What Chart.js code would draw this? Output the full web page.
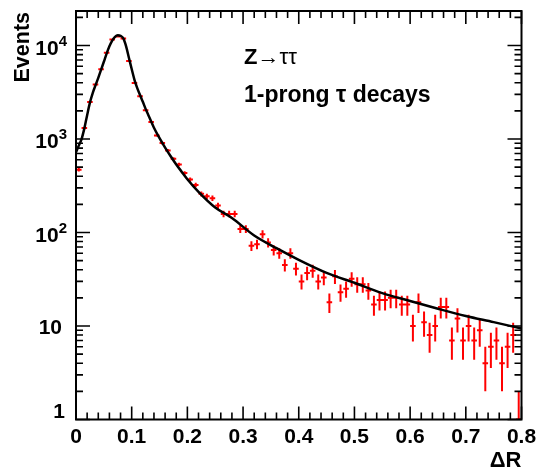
<!DOCTYPE html>
<html>
<head>
<meta charset="utf-8">
<script src="https://cdn.jsdelivr.net/npm/chart.js@4/dist/chart.umd.min.js"></script>
<style>
    html, body { margin: 0; padding: 0; background: #fff; }
</style>
</head>
<body>
<canvas id="myChart" width="541" height="474"></canvas>
<script>
// histogram: 80 bins of width 0.01 from 0 to 0.8
var binLow = 0;
var binWidth = 0.01;
var counts = [470, 1310, 2490, 3820, 5570, 8350, 11600, 12500, 11900, 6850,
    3980, 2860, 2025, 1520, 1091, 906, 754, 614, 533, 432,
    368, 323, 259, 244, 233, 194, 158, 158, 158, 109,
    109, 72, 75, 96, 78, 65, 60, 45, 60, 41,
    30, 37, 39, 30, 33, 18, 34, 23, 25, 32,
    28, 28, 24, 17, 19, 19, 20, 20, 17, 17,
    10, 18, 11, 8, 10, 16, 16, 7, 12, 7,
    10, 7, 9, 4, 6, 7, 4, 6, 8, 1];

// fitted curve
var fitX = [0.0, 0.005, 0.01, 0.015, 0.02, 0.025, 0.03, 0.035, 0.04, 0.045,
    0.05, 0.055, 0.06, 0.065, 0.07, 0.075, 0.08, 0.085, 0.09, 0.095,
    0.10, 0.105, 0.11, 0.115, 0.12, 0.125, 0.13, 0.14, 0.15, 0.16,
    0.17, 0.18, 0.19, 0.20, 0.22, 0.25, 0.28, 0.32, 0.36, 0.40,
    0.45, 0.50, 0.55, 0.60, 0.65, 0.70, 0.75, 0.80];
var fitY = [720, 850, 1000, 1300, 1800, 2450, 3100, 3750, 4500, 5500,
    6700, 8200, 9800, 11300, 12400, 12900, 12700, 11900, 9800, 7400,
    5600, 4300, 3500, 2950, 2500, 2100, 1800, 1320, 1020, 810,
    655, 535, 445, 372, 272, 185, 143, 93, 68, 51,
    37, 29, 22.5, 18.5, 15.3, 12.8, 11, 9.4];

var xTicks = [0, 0.1, 0.2, 0.3, 0.4, 0.5, 0.6, 0.7, 0.8];
var xTickLabels = ['0', '0.1', '0.2', '0.3', '0.4', '0.5', '0.6', '0.7', '0.8'];
var yTicks = [1, 10, 100, 1000, 10000];
var yTickBase = ['1', '10', '10', '10', '10'];
var yTickExp = ['', '', '2', '3', '4'];

var binCentres = counts.map(function (n, i) { return binLow + (i + 0.5) * binWidth; });
var dataPoints = counts.map(function (n, i) { return {x: binCentres[i], y: n}; });
var fitPoints = fitX.map(function (x, i) { return {x: x, y: fitY[i]}; });

var font = '"Liberation Sans", Arial, sans-serif';

var rootFrame = {
    id: 'rootFrame',
    beforeDatasetsDraw: function (chart) {
        var ctx = chart.ctx, xs = chart.scales.x, ys = chart.scales.y, a = chart.chartArea;
        ctx.save();
        ctx.beginPath();
        ctx.rect(a.left, a.top, a.right - a.left, a.bottom - a.top);
        ctx.clip();
        ctx.strokeStyle = '#ff0000';
        ctx.lineWidth = 2;
        ctx.beginPath();
        for (var i = 0; i < counts.length; i++) {
            var c = binCentres[i], n = counts[i], e = Math.sqrt(n);
            var px = xs.getPixelForValue(c), py = ys.getPixelForValue(n);
            var lo = n - e > 0 ? ys.getPixelForValue(n - e) : a.bottom + 5;
            var hi = ys.getPixelForValue(n + e);
            ctx.moveTo(xs.getPixelForValue(c - binWidth / 2), py);
            ctx.lineTo(xs.getPixelForValue(c + binWidth / 2), py);
            ctx.moveTo(px, lo);
            ctx.lineTo(px, hi);
        }
        ctx.stroke();
        ctx.restore();
    },
    afterDraw: function (chart) {
        var ctx = chart.ctx, xs = chart.scales.x, ys = chart.scales.y, a = chart.chartArea;
        ctx.save();
        ctx.strokeStyle = '#000';
        ctx.lineWidth = 2;
        ctx.strokeRect(a.left, a.top, a.right - a.left, a.bottom - a.top);

        // x ticks, inside, bottom and top
        ctx.lineWidth = 1.6;
        ctx.beginPath();
        for (var k = 0; k <= 40; k++) {
            var v = k * 0.02;
            var px = xs.getPixelForValue(v);
            var len = (k % 5 === 0) ? 13 : 7;
            ctx.moveTo(px, a.bottom); ctx.lineTo(px, a.bottom - len);
            ctx.moveTo(px, a.top); ctx.lineTo(px, a.top + len);
        }
        // y ticks, log
        for (var d = 0; d < yTicks.length; d++) {
            for (var m = 1; m <= 9; m++) {
                var val = yTicks[d] * m;
                if (val > ys.max) break;
                var py = ys.getPixelForValue(val);
                var l = (m === 1) ? 14 : 7;
                ctx.moveTo(a.left, py); ctx.lineTo(a.left + l, py);
                ctx.moveTo(a.right, py); ctx.lineTo(a.right - l, py);
            }
        }
        ctx.stroke();

        ctx.fillStyle = '#000';
        // x labels
        ctx.font = 'bold 21px ' + font;
        ctx.textAlign = 'center';
        ctx.textBaseline = 'alphabetic';
        xTicks.forEach(function (t, i) {
            ctx.fillText(xTickLabels[i], xs.getPixelForValue(t), 443);
        });
        // y labels
        yTicks.forEach(function (t, i) {
            var py = ys.getPixelForValue(t);
            ctx.textAlign = 'right';
            if (yTickExp[i] === '') {
                ctx.font = 'bold 21px ' + font;
                var base = (t === 1) ? py - 2 : py + 8;
                ctx.fillText(yTickBase[i], t === 1 ? 65 : 62, base);
            } else {
                ctx.font = 'bold 15px ' + font;
                var w = ctx.measureText(yTickExp[i]).width;
                ctx.fillText(yTickExp[i], 67, py);
                ctx.font = 'bold 21px ' + font;
                ctx.fillText(yTickBase[i], 67 - w, py + 9);
            }
        });

        // axis titles
        ctx.font = 'bold 22px ' + font;
        ctx.textAlign = 'right';
        ctx.fillText('\u0394R', a.right, 467);
        ctx.save();
        ctx.translate(29, 12);
        ctx.rotate(-Math.PI / 2);
        ctx.textAlign = 'right';
        ctx.font = 'bold 21.5px ' + font;
        ctx.fillText('Events', 0, 0);
        ctx.restore();

        // annotations
        ctx.textAlign = 'left';
        ctx.font = 'bold 22px ' + font;
        ctx.fillText('Z', 244, 63.5);
        var zw = ctx.measureText('Z').width;
        ctx.font = '22px ' + font;
        ctx.fillText('\u2192\u03c4\u03c4', 244 + zw, 63.5);
        ctx.font = 'bold 23px ' + font;
        ctx.fillText('1-prong \u03c4 decays', 244, 101.5);
        ctx.restore();
    }
};

var ctx = document.getElementById('myChart').getContext('2d');
var chart = new Chart(ctx, {
    type: 'scatter',
    data: {
        datasets: [{
            label: 'data',
            data: dataPoints,
            pointRadius: 0,
            showLine: false
        }, {
            label: 'fit',
            data: fitPoints,
            showLine: true,
            borderColor: '#000',
            borderWidth: 2.5,
            pointRadius: 0,
            cubicInterpolationMode: 'monotone',
            fill: false
        }]
    },
    options: {
        responsive: false,
        animation: false,
        layout: {padding: {left: 76, right: 19.5, top: 11, bottom: 54.5}},
        plugins: {legend: {display: false}, tooltip: {enabled: false}},
        scales: {
            x: {type: 'linear', min: 0, max: 0.8, display: false},
            y: {type: 'logarithmic', min: 1, max: 23400, display: false}
        }
    },
    plugins: [rootFrame]
});
</script>
</body>
</html>
